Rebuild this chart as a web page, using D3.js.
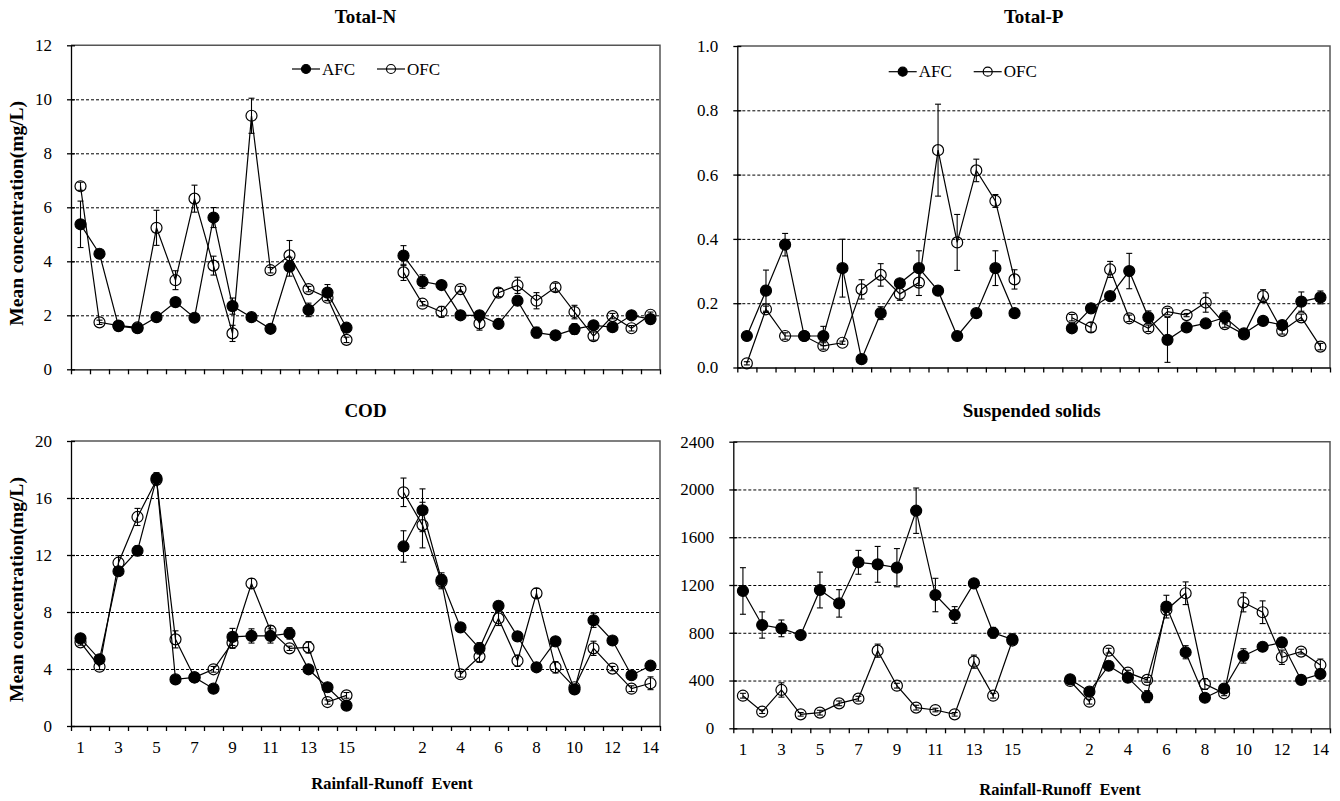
<!DOCTYPE html>
<html>
<head>
<meta charset="utf-8">
<script src="https://cdn.jsdelivr.net/npm/d3@7"></script>
<style>
body { margin: 0; background: #fff; }
svg { font-family: "Liberation Serif", "Times New Roman", serif; }
</style>
</head>
<body>
<svg id="chart" width="1340" height="801"></svg>
<script>
// 15 events of the first season, 2 empty slots, 14 events of the second
const events = ['1','2','3','4','5','6','7','8','9','10','11','12','13','14','15','','',
    '1','2','3','4','5','6','7','8','9','10','11','12','13','14']
const gap = [null, null]

// Total-N (mg/L)
const tnAfc1 = [5.37, 4.28, 1.60, 1.52, 1.93, 2.49, 1.91, 5.62, 2.34, 1.93, 1.50, 3.80, 2.20, 2.84, 1.54]
const tnAfcErr1 = [0.86, 0.12, 0.15, 0.12, 0.08, 0.12, 0.08, 0.37, 0.3, 0.08, 0.08, 0.35, 0.25, 0.3, 0.15]
const tnOfc1 = [6.78, 1.74, 1.62, 1.55, 5.24, 3.30, 6.32, 3.84, 1.33, 9.39, 3.67, 4.22, 2.97, 2.65, 1.09]
const tnOfcErr1 = [0.15, 0.08, 0.1, 0.1, 0.65, 0.35, 0.5, 0.35, 0.3, 0.65, 0.1, 0.55, 0.1, 0.1, 0.1]
const tnAfc2 = [4.21, 3.25, 3.12, 2.0, 2.0, 1.68, 2.54, 1.36, 1.26, 1.49, 1.63, 1.56, 2.0, 1.86]
const tnAfcErr2 = [0.37, 0.25, 0.08, 0.08, 0.1, 0.1, 0.1, 0.2, 0.1, 0.2, 0.1, 0.1, 0.1, 0.1]
const tnOfc2 = [3.59, 2.43, 2.13, 2.97, 1.70, 2.84, 3.11, 2.54, 3.04, 2.12, 1.23, 1.97, 1.52, 2.02]
const tnOfcErr2 = [0.3, 0.08, 0.2, 0.1, 0.25, 0.15, 0.3, 0.3, 0.15, 0.25, 0.15, 0.1, 0.1, 0.1]

// Total-P (mg/L)
const tpAfc1 = [0.098, 0.239, 0.382, 0.098, 0.098, 0.309, 0.026, 0.169, 0.262, 0.309, 0.239, 0.098, 0.169, 0.309, 0.169]
const tpAfcErr1 = [0.005, 0.064, 0.035, 0.01, 0.03, 0.09, 0.005, 0.02, 0.01, 0.054, 0.015, 0.005, 0.005, 0.054, 0.01]
const tpOfc1 = [0.013, 0.181, 0.098, 0.098, 0.067, 0.077, 0.243, 0.288, 0.229, 0.264, 0.676, 0.389, 0.613, 0.518, 0.274]
const tpOfcErr1 = [0.005, 0.01, 0.01, 0.01, 0.01, 0.005, 0.03, 0.035, 0.02, 0.04, 0.143, 0.087, 0.035, 0.02, 0.03]
const tpAfc2 = [0.122, 0.184, 0.222, 0.300, 0.156, 0.086, 0.125, 0.137, 0.156, 0.106, 0.145, 0.132, 0.205, 0.218]
const tpAfcErr2 = [0.005, 0.005, 0.01, 0.055, 0.02, 0.07, 0.005, 0.01, 0.02, 0.01, 0.005, 0.01, 0.03, 0.02]
const tpOfc2 = [0.155, 0.125, 0.305, 0.153, 0.122, 0.174, 0.163, 0.202, 0.135, 0.103, 0.222, 0.114, 0.156, 0.065]
const tpOfcErr2 = [0.01, 0.015, 0.025, 0.01, 0.01, 0.01, 0.005, 0.03, 0.01, 0.01, 0.02, 0.01, 0.01, 0.01]

// COD (mg/L)
const codAfc1 = [6.15, 4.68, 10.86, 12.30, 17.38, 3.27, 3.41, 2.62, 6.25, 6.32, 6.32, 6.50, 3.98, 2.72, 1.43]
const codAfcErr1 = [0.2, 0.2, 0.3, 0.35, 0.4, 0.1, 0.2, 0.1, 0.6, 0.5, 0.5, 0.4, 0.2, 0.15, 0.1]
const codOfc1 = [5.87, 4.16, 11.46, 14.67, 17.26, 6.08, 3.41, 3.98, 5.85, 10.0, 6.69, 5.45, 5.52, 1.68, 2.15]
const codOfcErr1 = [0.2, 0.2, 0.5, 0.6, 0.3, 0.6, 0.1, 0.2, 0.4, 0.35, 0.35, 0.15, 0.4, 0.15, 0.2]
const codAfc2 = [12.6, 15.14, 10.25, 6.92, 5.45, 8.44, 6.29, 4.12, 5.94, 2.57, 7.42, 6.0, 3.56, 4.23]
const codAfcErr2 = [1.1, 1.5, 0.5, 0.3, 0.4, 0.2, 0.3, 0.1, 0.2, 0.3, 0.5, 0.1, 0.1, 0.1]
const codOfc2 = [16.4, 14.1, 10.13, 3.63, 4.87, 7.55, 4.58, 9.31, 4.12, 2.72, 5.45, 4.03, 2.62, 3.0]
const codOfcErr2 = [1.0, 1.6, 0.5, 0.2, 0.4, 0.5, 0.4, 0.35, 0.4, 0.2, 0.5, 0.15, 0.2, 0.45]

// Suspended solids (mg/L)
const ssAfc1 = [1150, 865, 837, 781, 1158, 1046, 1390, 1373, 1345, 1822, 1116, 949, 1214, 800, 745]
const ssAfcErr1 = [195, 110, 70, 15, 150, 115, 100, 150, 160, 190, 140, 70, 15, 45, 45]
const ssOfc1 = [273, 139, 321, 117, 131, 209, 248, 650, 357, 173, 153, 117, 558, 273, 735]
const ssOfcErr1 = [20, 15, 60, 15, 20, 20, 20, 55, 20, 20, 15, 15, 55, 20, 20]
const ssAfc2 = [410, 307, 524, 424, 265, 1019, 637, 256, 332, 606, 683, 720, 405, 455]
const ssAfcErr2 = [20, 20, 20, 20, 50, 95, 55, 20, 20, 60, 20, 40, 20, 20]
const ssOfc2 = [396, 223, 650, 466, 405, 991, 1131, 371, 293, 1055, 972, 595, 642, 530]
const ssOfcErr2 = [20, 20, 20, 20, 20, 20, 95, 45, 20, 80, 95, 60, 20, 50]

const join = (a, b) => a.concat(gap, b)

const panels = [
    { title: 'Total-N', l: 71, r: 660, t: 45.3, b: 369.3, max: 12, step: 2, fmt: d3.format('d'),
      afc: join(tnAfc1, tnAfc2), afcErr: join(tnAfcErr1, tnAfcErr2),
      ofc: join(tnOfc1, tnOfc2), ofcErr: join(tnOfcErr1, tnOfcErr2),
      titleY: 23, legend: [306, 69], yLabel: true, xLabels: false },
    { title: 'Total-P', l: 737.3, r: 1330, t: 46, b: 367.5, max: 1.0, step: 0.2, fmt: d3.format('.1f'),
      afc: join(tpAfc1, tpAfc2), afcErr: join(tpAfcErr1, tpAfcErr2),
      ofc: join(tpOfc1, tpOfc2), ofcErr: join(tpOfcErr1, tpOfcErr2),
      titleY: 23, legend: [902.7, 71.7], yLabel: false, xLabels: false },
    { title: 'COD', l: 71, r: 660, t: 441, b: 726, max: 20, step: 4, fmt: d3.format('d'),
      afc: join(codAfc1, codAfc2), afcErr: join(codAfcErr1, codAfcErr2),
      ofc: join(codOfc1, codOfc2), ofcErr: join(codOfcErr1, codOfcErr2),
      titleY: 417, yLabel: true, xLabels: true, xTitle: [392, 789] },
    { title: 'Suspended solids', l: 733.3, r: 1330, t: 441.7, b: 728.3, max: 2400, step: 400, fmt: d3.format('d'),
      afc: join(ssAfc1, ssAfc2), afcErr: join(ssAfcErr1, ssAfcErr2),
      ofc: join(ssOfc1, ssOfc2), ofcErr: join(ssOfcErr1, ssOfcErr2),
      titleY: 417, yLabel: false, xLabels: true, xTitle: [1060, 795] }
]

const svg = d3.select('#chart')

drawPanel = p => {
    const g = svg.append('g')
    const x = d3.scaleBand().domain(d3.range(events.length)).range([p.l, p.r])
    const xEdge = d3.scaleLinear().domain([0, events.length]).range([p.l, p.r])
    const y = d3.scaleLinear().domain([0, p.max]).range([p.b, p.t])
    const yTicks = d3.range(0, p.max + p.step / 2, p.step)
    const cx = i => x(i) + x.bandwidth() / 2

    // dashed gridlines
    g.append('g')
        .attr('transform', `translate(${p.l},0)`)
        .call(d3.axisLeft(y).tickValues(yTicks.slice(1, -1)).tickSize(-(p.r - p.l)).tickFormat(''))
        .call(a => a.select('.domain').remove())
        .selectAll('line')
            .attr('stroke', '#000')
            .attr('stroke-width', 1)
            .attr('stroke-dasharray', '3,2')

    // frame top + right
    g.append('path')
        .attr('d', `M${p.l},${p.t}H${p.r}V${p.b}`)
        .attr('fill', 'none')
        .attr('stroke', '#555')
        .attr('stroke-width', 1.5)

    // y axis, ticks crossing the line
    const ya = g.append('g')
        .attr('transform', `translate(${p.l},0)`)
        .call(d3.axisLeft(y).tickValues(yTicks).tickSizeInner(4).tickSizeOuter(0).tickPadding(15).tickFormat(p.fmt))
    ya.selectAll('.tick line').attr('x1', 4)
    ya.selectAll('line, path').attr('stroke', '#000').attr('stroke-width', 1.3)
    ya.selectAll('text').attr('font-size', 17).attr('font-family', 'Liberation Serif').attr('fill', '#000')

    // x axis tick marks at category edges
    const xa = g.append('g')
        .attr('transform', `translate(0,${p.b})`)
        .call(d3.axisBottom(xEdge).tickValues(d3.range(events.length + 1)).tickSize(5).tickSizeOuter(0).tickFormat(''))
    xa.selectAll('line, path').attr('stroke', '#000').attr('stroke-width', 1.3)

    if (p.xLabels) {
        g.append('g')
            .attr('transform', `translate(0,${p.b})`)
            .call(d3.axisBottom(x).tickSize(0).tickPadding(15).tickFormat(i => i % 2 === 0 ? events[i] : ''))
            .call(a => a.select('.domain').remove())
            .selectAll('text')
                .attr('font-size', 17)
                .attr('font-family', 'Liberation Serif')
                .attr('fill', '#000')
    }

    const series = [
        { vals: p.ofc, errs: p.ofcErr, fill: 'none' },
        { vals: p.afc, errs: p.afcErr, fill: '#000' }
    ]
    series.forEach(s => {
        const pts = s.vals.map((v, i) => ({ i, v, e: s.errs[i] }))
        const line = d3.line().defined(d => d.v !== null).x(d => cx(d.i)).y(d => y(d.v))
        g.append('path')
            .attr('d', line(pts))
            .attr('fill', 'none')
            .attr('stroke', '#000')
            .attr('stroke-width', 1.2)

        const valid = pts.filter(d => d.v !== null)
        const eb = g.append('g').selectAll('g').data(valid).enter().append('g')
            .attr('stroke', '#000').attr('stroke-width', 1.1)
        eb.append('line')
            .attr('x1', d => cx(d.i)).attr('x2', d => cx(d.i))
            .attr('y1', d => y(d.v - d.e)).attr('y2', d => y(d.v + d.e))
        eb.append('line')
            .attr('x1', d => cx(d.i) - 3).attr('x2', d => cx(d.i) + 3)
            .attr('y1', d => y(d.v + d.e)).attr('y2', d => y(d.v + d.e))
        eb.append('line')
            .attr('x1', d => cx(d.i) - 3).attr('x2', d => cx(d.i) + 3)
            .attr('y1', d => y(d.v - d.e)).attr('y2', d => y(d.v - d.e))

        g.append('g').selectAll('circle').data(valid).enter().append('circle')
            .attr('cx', d => cx(d.i))
            .attr('cy', d => y(d.v))
            .attr('r', 5.5)
            .attr('fill', s.fill)
            .attr('stroke', '#000')
            .attr('stroke-width', 1.2)
    })

    // title
    g.append('text')
        .attr('x', (p.l + p.r) / 2)
        .attr('y', p.titleY)
        .attr('text-anchor', 'middle')
        .attr('font-weight', 'bold')
        .attr('font-size', 19)
        .text(p.title)

    if (p.yLabel) {
        g.append('text')
            .attr('transform', `translate(23,${(p.t + p.b) / 2 + 6}) rotate(-90)`)
            .attr('text-anchor', 'middle')
            .attr('font-weight', 'bold')
            .attr('font-size', 19.5)
            .text('Mean concentration(mg/L)')
    }

    if (p.xTitle) {
        g.append('text')
            .attr('x', p.xTitle[0])
            .attr('y', p.xTitle[1])
            .attr('text-anchor', 'middle')
            .attr('font-weight', 'bold')
            .attr('font-size', 16.5)
            .attr('xml:space', 'preserve')
            .text('Rainfall-Runoff  Event')
    }

    if (p.legend) {
        const items = [{ name: 'AFC', fill: '#000' }, { name: 'OFC', fill: 'none' }]
        items.forEach((it, k) => {
            const mx = p.legend[0] + k * 85, my = p.legend[1]
            g.append('line')
                .attr('x1', mx - 14).attr('x2', mx + 14)
                .attr('y1', my).attr('y2', my)
                .attr('stroke', '#000').attr('stroke-width', 1.2)
            g.append('circle')
                .attr('cx', mx).attr('cy', my).attr('r', 4.5)
                .attr('fill', it.fill).attr('stroke', '#000').attr('stroke-width', 1.2)
            g.append('text')
                .attr('x', mx + 16).attr('y', my + 5.5)
                .attr('font-size', 17)
                .text(it.name)
        })
    }
}

panels.forEach(drawPanel)
</script>
</body>
</html>
